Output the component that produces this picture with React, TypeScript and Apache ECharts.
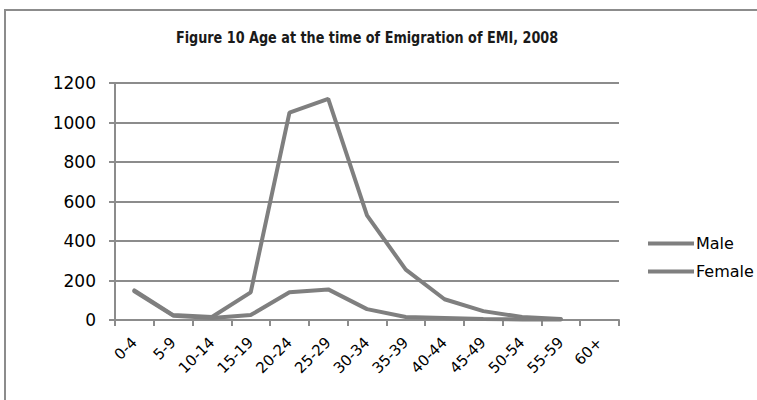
import React, { useEffect, useRef } from "react";
import * as echarts from "echarts";

const categories = ["0-4", "5-9", "10-14", "15-19", "20-24", "25-29", "30-34", "35-39", "40-44", "45-49", "50-54", "55-59", "60+"];
const maleValues = [150, 25, 15, 140, 1050, 1120, 530, 255, 105, 45, 15, 5, null];
const femaleValues = [145, 22, 10, 25, 140, 155, 55, 15, 10, 5, 3, 2, null];
const yTicks = { min: 0, max: 1200, interval: 200 };
const titleText = "Figure 10 Age at the time of Emigration of EMI, 2008";

export default function App() {
  const ref = useRef<HTMLDivElement>(null);
  useEffect(() => {
    const chart = echarts.init(ref.current!, null, { renderer: "svg" });
    const lineColor = "#7f7f7f";
    const font = "DejaVu Sans, sans-serif";
    chart.setOption({
      animation: false,
      backgroundColor: "#ffffff",
      graphic: [
        { type: "rect", shape: { x: 5, y: 10, width: 800, height: 500 }, style: { fill: "none", stroke: "#8c8c8c", lineWidth: 2 }, silent: true },
        {
          type: "text",
          x: 367,
          y: 37,
          scaleX: 0.95,
          style: { text: titleText, fontFamily: "DejaVu Sans Condensed, DejaVu Sans, sans-serif", fontWeight: "bold", fontSize: 15, fill: "#1a1a1a", align: "center", verticalAlign: "middle" },
          silent: true,
        },
      ],
      legend: {
        orient: "vertical",
        left: 643,
        top: 229,
        itemWidth: 46,
        itemHeight: 4,
        itemGap: 9,
        icon: "rect",
        textStyle: { fontFamily: font, fontSize: 16, lineHeight: 19, color: "#000", padding: [0, 0, 0, -3] },
        data: ["Male", "Female"],
      },
      grid: { left: 115, right: 757 - 619, top: 83, bottom: 400 - 320, containLabel: false },
      xAxis: {
        type: "category",
        data: categories,
        boundaryGap: true,
        axisLine: { lineStyle: { color: "#8c8c8c", width: 2 } },
        axisTick: { show: true, length: 6, lineStyle: { color: "#8c8c8c", width: 2 } },
        axisLabel: { rotate: 45, interval: 0, fontFamily: font, fontSize: 15, color: "#000", margin: 20 },
      },
      yAxis: {
        type: "value",
        min: yTicks.min,
        max: yTicks.max,
        interval: yTicks.interval,
        axisLine: { show: true, lineStyle: { color: "#8c8c8c", width: 2 } },
        axisTick: { show: true, length: 6, lineStyle: { color: "#8c8c8c", width: 2 } },
        axisLabel: { fontFamily: font, fontSize: 17, color: "#000", margin: 19, formatter: (v: number) => String(v) },
        splitLine: { lineStyle: { color: "#8c8c8c", width: 2 } },
      },
      series: [
        { name: "Male", type: "line", data: maleValues, showSymbol: false, symbol: "none", lineStyle: { color: lineColor, width: 4, cap: "round" }, itemStyle: { color: lineColor } },
        { name: "Female", type: "line", data: femaleValues, showSymbol: false, symbol: "none", lineStyle: { color: lineColor, width: 4, cap: "round" }, itemStyle: { color: lineColor } },
      ],
    });
    return () => chart.dispose();
  }, []);
  return <div ref={ref} style={{ width: 757, height: 400, position: "absolute", left: 0, top: 0 }} />;
}
